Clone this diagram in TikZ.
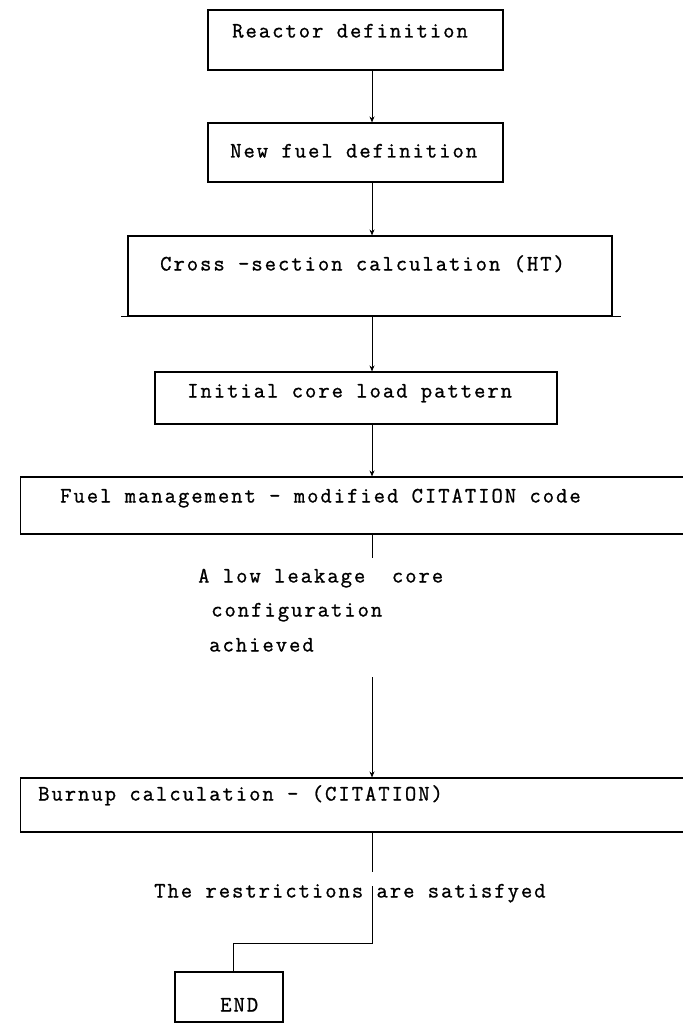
\documentclass[tikz,border=0pt]{standalone}
\usepackage{fontspec}
\newfontfamily\tw{Latin Modern Mono}[LetterSpace=9, FakeBold=1.0]
\usetikzlibrary{arrows.meta}
\begin{document}
\begin{tikzpicture}[x=1pt,y=-1pt,
  box/.style={draw, line width=1.1pt, inner sep=0pt, rectangle},
  lbl/.style={font=\tw\fontsize{22}{26}\selectfont, inner sep=0pt, anchor=west, text height=12pt, text depth=3pt},
  link/.style={line width=0.9pt},
  arr/.style={link, -{Stealth[length=6pt,width=5pt]}}]
\useasboundingbox (0,0) rectangle (682,1024);
\coordinate (ax) at (372,0);
% boxes
\node[box, minimum width=295pt, minimum height=60pt] (b1) at (355.5,40) {};
\node[box, minimum width=295pt, minimum height=59pt] (b2) at (355.5,152.5) {};
\node[box, minimum width=484pt, minimum height=80pt] (b3) at (370,276) {};
\node[box, minimum width=402pt, minimum height=52pt] (b4) at (356,398) {};
\node[box, minimum width=690pt, minimum height=57pt, anchor=west] (b5) at (20,505.5) {};
\node[box, minimum width=690pt, minimum height=54pt, anchor=west] (b6) at (20,805) {};
\node[box, minimum width=108pt, minimum height=50pt] (b7) at (229,997) {};
\draw[line width=1.1pt] ([xshift=-6pt]b3.south west) -- ([xshift=8pt]b3.south east);
% texts
\node[lbl] (t1) at (232,33) {Reactor definition};
\node[lbl] (t2) at (230,153) {New fuel definition};
\node[lbl] (t3) at (160,266) {Cross -section calculation (HT)};
\node[lbl] (t4) at (187,393) {Initial core load pattern};
\node[lbl] (t5) at (60,498) {Fuel management - modified CITATION code};
\node[lbl] (t6a) at (198,578) {A low leakage\ \ core};
\node[lbl] (t6b) at (211,612) {configuration};
\node[lbl] (t6c) at (209,647) {achieved};
\node[lbl] (t7) at (38,796) {Burnup calculation - (CITATION)};
\node[lbl] (t8) at (154,893) {The restrictions are satisfyed};
\node[lbl] (t9) at (220,1007) {END};
% connectors
\coordinate (c1) at (372,558);
\coordinate (c2) at (372,677);
\coordinate (c4) at (372,872);
\coordinate (c5) at (372,886);
\coordinate (c6) at (372,943);
\coordinate (c7) at (233,943);
\draw[arr] (b1.south -| ax) -- (b2.north -| ax);
\draw[arr] (b2.south -| ax) -- (b3.north -| ax);
\draw[arr] (b3.south -| ax) -- (b4.north -| ax);
\draw[arr] (b4.south -| ax) -- (b5.north -| ax);
\draw[link] (b5.south -| ax) -- (c1);
\draw[arr] (c2) -- (b6.north -| ax);
\draw[link] (b6.south -| ax) -- (c4);
\draw[link] (c5) -- (c6) -- (c7) -- (c7 |- b7.north);
\end{tikzpicture}
\end{document}
